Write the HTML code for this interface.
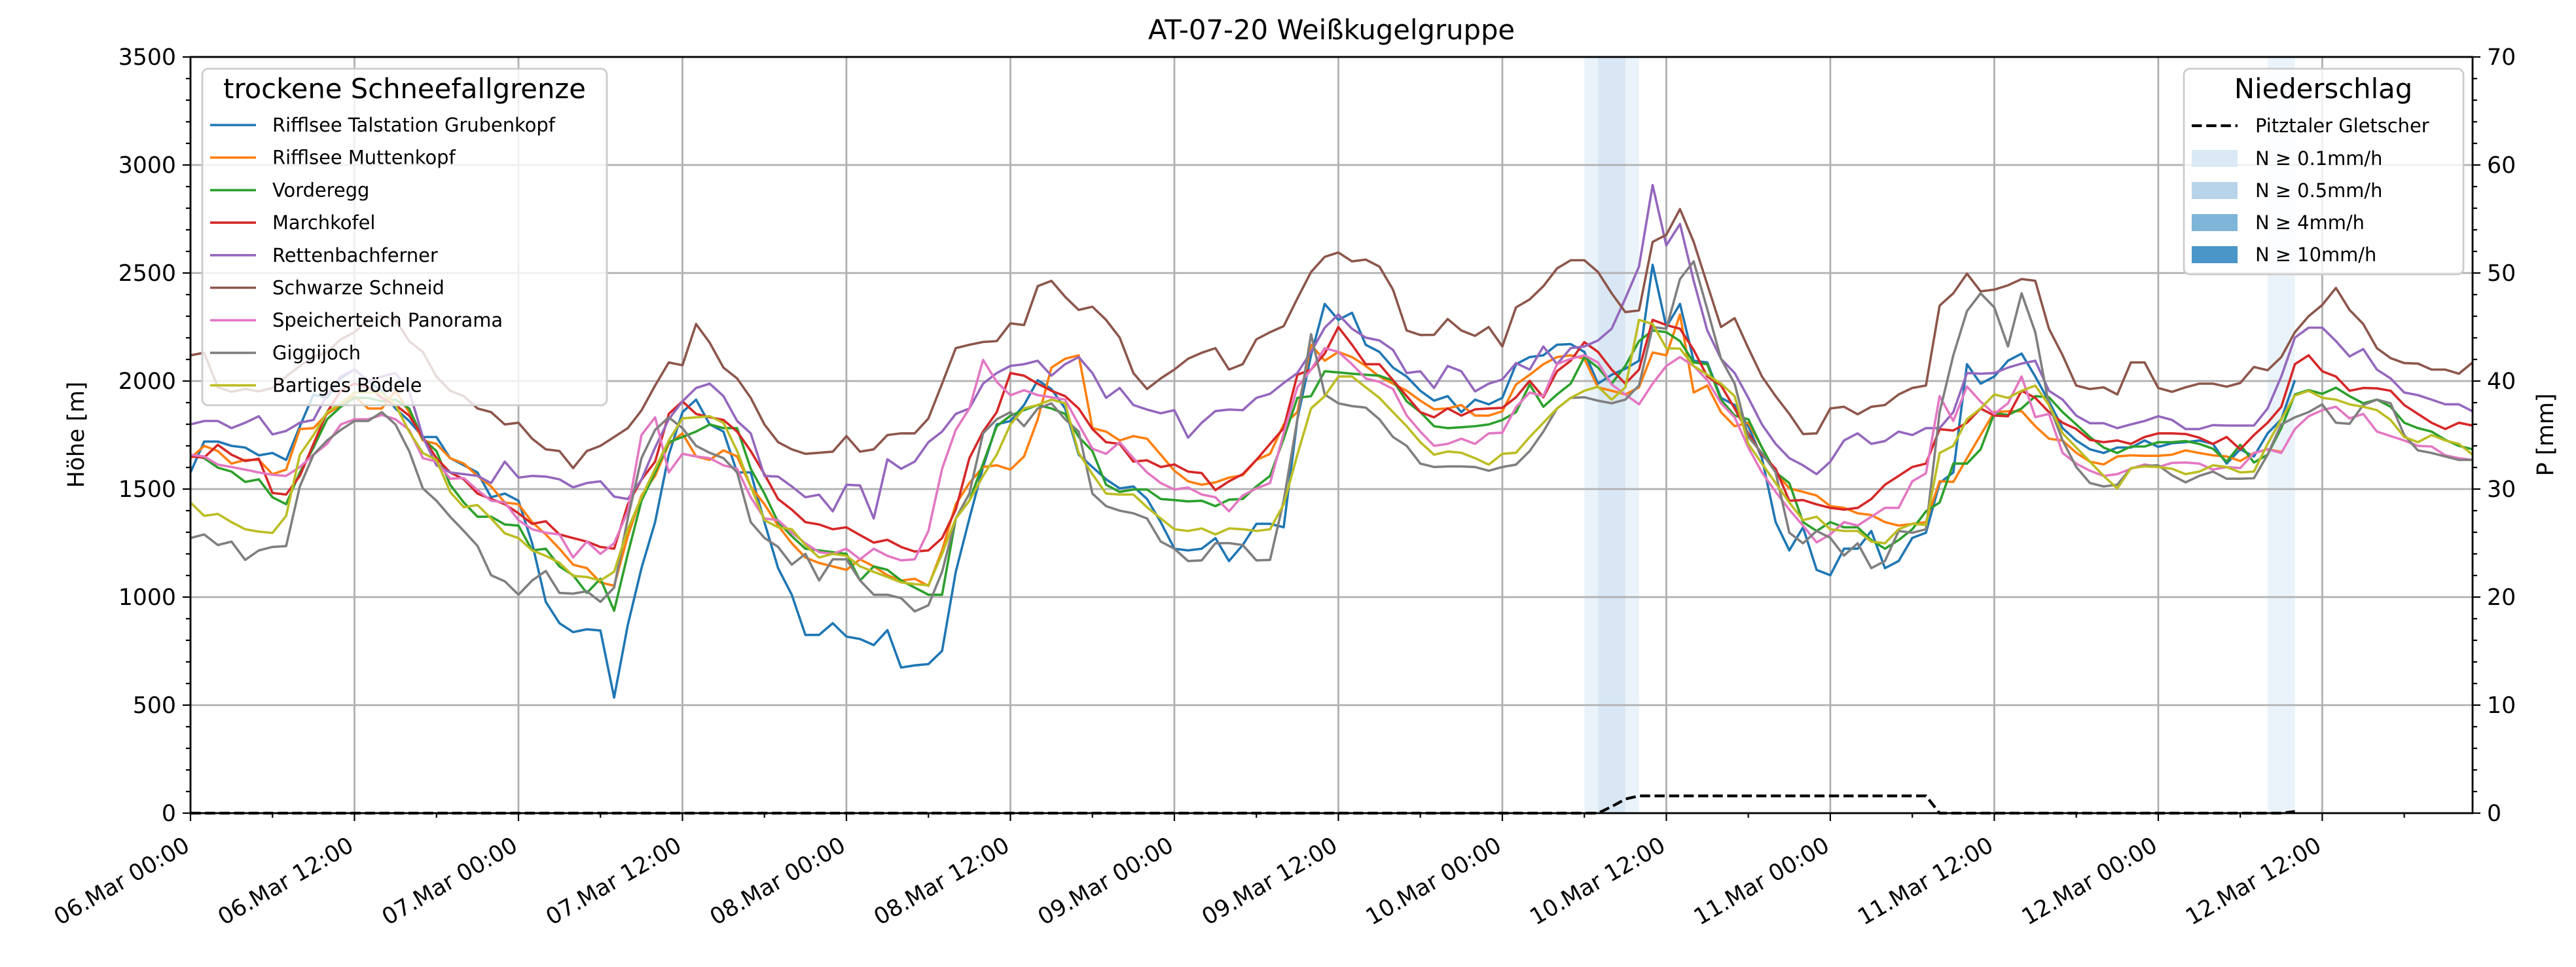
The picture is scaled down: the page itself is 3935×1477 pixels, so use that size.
<!DOCTYPE html>
<html><head><meta charset="utf-8">
<style>
html,body{margin:0;padding:0;background:#fff;}
svg{display:block;font-family:"DejaVu Sans","Liberation Sans",sans-serif;}
</style></head>
<body>
<svg id="chart" width="3935" height="1477" viewBox="0 0 3935 1477" xmlns="http://www.w3.org/2000/svg">
<rect x="0" y="0" width="3935" height="1477" fill="#fff"/>
<g id="bands"></g>
<g id="grid"></g>
<g id="series"></g>
<g id="axes"></g>
<text x="2034" y="60" font-size="41.7" text-anchor="middle">AT-07-20 Weißkugelgruppe</text>
<text x="0" y="0" font-size="34.7" text-anchor="middle" transform="translate(128,664) rotate(-90)">Höhe [m]</text>
<text x="0" y="0" font-size="34.7" text-anchor="middle" transform="translate(3900,664) rotate(-90)">P [mm]</text>
<g id="legends"></g>
</svg>
<script>
// ---- data ----
const hours12Labels = ["06.Mar 00:00","06.Mar 12:00","07.Mar 00:00","07.Mar 12:00","08.Mar 00:00","08.Mar 12:00","09.Mar 00:00","09.Mar 12:00","10.Mar 00:00","10.Mar 12:00","11.Mar 00:00","11.Mar 12:00","12.Mar 00:00","12.Mar 12:00"];
const yTicks = [0,500,1000,1500,2000,2500,3000,3500];
const y2Ticks = [0,10,20,30,40,50,60,70];
const seriesNames = ["Rifflsee Talstation Grubenkopf","Rifflsee Muttenkopf","Vorderegg","Marchkofel","Rettenbachferner","Schwarze Schneid","Speicherteich Panorama","Giggijoch","Bartiges Bödele"];
const seriesColors = ["#1f77b4","#ff7f0e","#2ca02c","#d62728","#9467bd","#8c564b","#e377c2","#7f7f7f","#bcbd22"];
const sBlue = [1577,1720,1720,1700,1692,1656,1667,1635,1790,1938,1922,2013,2053,2000,1955,1873,1815,1741,1741,1643,1610,1577,1462,1479,1446,1249,978,879,838,
851,845,535,871,1134,1347,1659,1856,1914,1799,1766,1577,1577,1347,1134,1011,825,825,879,817,806,778,847,674,684,690,751,1117,
1364,1602,1799,1815,1889,2004,1963,1873,1659,1602,1545,1503,1512,1454,1347,1224,1216,1224,1273,1167,1241,1339,1339,1323,1823,2119,2357,2283,
2316,2168,2135,2062,2021,1955,1909,1930,1856,1914,1892,1922,2078,2111,2119,2168,2171,2135,1988,2029,2057,2094,2538,2250,2357,2094,2086,1922,1889,
1791,1643,1347,1216,1323,1126,1101,1224,1224,1306,1134,1167,1274,1298,1528,1577,2078,1988,2021,2094,2127,2021,1906,1782,1725,1684,1667,1692,
1692,1725,1695,1712,1717,1725,1709,1618,1684,1651,1758,1823,2004];
const sOrange = [1643,1700,1676,1618,1635,1635,1569,1590,1778,1782,1848,1889,1930,1873,1873,1955,1856,1725,1709,1643,1618,1561,1512,1438,1430,1347,1290,1224,1150,
1134,1068,1052,1282,1470,1561,1709,1758,1651,1635,1679,1651,1512,1430,1331,1249,1183,1158,1142,1126,1175,1142,1101,1076,1085,1052,1216,1430,
1528,1602,1610,1590,1651,1823,2062,2103,2119,1782,1766,1725,1745,1733,1659,1585,1536,1520,1531,1553,1564,1635,1663,1799,1856,2168,2094,2135,
2111,2070,2021,1988,1955,1909,1869,1873,1889,1840,1840,1860,1984,2029,2078,2111,2119,2103,1971,1955,1938,1971,2132,2119,2308,1947,1979,1856,1791,
1807,1692,1577,1503,1487,1470,1421,1413,1388,1380,1347,1331,1339,1347,1536,1533,1643,1750,1856,1860,1861,1791,1733,1725,1668,1627,1614,1651,
1656,1654,1654,1659,1679,1667,1656,1651,1630,1667,1684,1672];
const sGreen = [1659,1643,1599,1581,1533,1545,1462,1430,1577,1692,1823,1881,1922,1922,1906,1914,1873,1733,1676,1520,1438,1372,1372,1336,1331,1216,1224,1142,1101,
1019,1085,937,1200,1446,1577,1717,1741,1766,1799,1782,1782,1594,1479,1347,1282,1224,1216,1208,1200,1077,1142,1126,1077,1044,1011,1011,1364,
1446,1618,1791,1840,1865,1889,1873,1848,1741,1676,1520,1487,1498,1498,1454,1449,1443,1446,1421,1451,1454,1512,1561,1733,1922,1930,2045,2040,
2034,2029,2025,2002,1906,1856,1791,1782,1786,1791,1799,1820,1856,1984,1881,1938,1988,2111,2062,1988,2070,2185,2234,2226,2185,2086,2078,1914,1840,
1823,1692,1577,1528,1347,1306,1347,1323,1323,1264,1224,1264,1314,1397,1438,1618,1618,1684,1851,1843,1873,1930,1925,1856,1799,1741,1692,1667,
1697,1697,1717,1717,1722,1709,1687,1627,1705,1623,1659,1782,1938,1958,1941,1969,1930,1897,1914,1881,1807,1782,1766,1728,1700,1684];
const sRed = [1651,1646,1705,1659,1630,1640,1482,1475,1561,1709,1856,1955,1988,1971,1922,1889,1840,1741,1643,1577,1545,1479,1454,1430,1388,1339,1351,1290,1273,
1257,1232,1224,1429,1544,1627,1848,1906,1848,1832,1820,1766,1676,1569,1454,1405,1347,1336,1314,1323,1287,1252,1265,1232,1211,1216,1273,1405,
1643,1766,1856,2037,2025,1988,1955,1930,1873,1778,1717,1709,1627,1633,1602,1614,1581,1574,1495,1536,1569,1635,1709,1782,2029,2053,2127,2250,
2168,2078,2078,2004,1930,1856,1832,1873,1840,1869,1873,1876,1925,2001,1925,2045,2094,2180,2135,2053,1988,2053,2283,2259,2242,2144,2021,1980,1873,
1758,1659,1594,1446,1449,1429,1413,1405,1413,1454,1520,1561,1602,1618,1777,1771,1807,1873,1840,1837,1955,1922,1856,1807,1778,1728,1717,1725,
1709,1741,1758,1758,1755,1738,1709,1741,1684,1750,1807,1881,2078,2119,2045,2021,1955,1968,1966,1955,1889,1848,1807,1778,1807,1794];
const sPurple = [1799,1815,1815,1782,1807,1837,1753,1769,1807,1820,1938,2021,2053,2000,2021,2037,1955,1741,1610,1577,1569,1561,1528,1627,1553,1561,1558,1545,1508,
1528,1536,1465,1454,1544,1692,1823,1906,1968,1988,1930,1815,1758,1561,1558,1512,1462,1474,1397,1520,1517,1364,1638,1594,1627,1717,1766,1848,
1873,1988,2037,2070,2078,2094,2025,2078,2111,2037,1922,1968,1889,1868,1851,1865,1738,1807,1861,1868,1865,1922,1941,1991,2037,2135,2247,2308,
2242,2201,2188,2144,2037,2045,1968,2070,2045,1952,1988,2007,2083,2053,2160,2078,2152,2160,2188,2242,2382,2530,2907,2628,2727,2464,2234,2103,2037,
1922,1799,1709,1643,1610,1569,1627,1725,1758,1709,1722,1766,1750,1782,1782,1856,2037,2034,2037,2062,2081,2094,1955,1914,1840,1805,1805,1782,
1799,1815,1837,1820,1778,1778,1796,1794,1794,1794,1873,2021,2201,2247,2247,2185,2114,2148,2053,2012,1947,1935,1914,1892,1892,1860];
const sBrown = [2119,2131,1971,1950,1963,1952,1968,2021,2070,2111,2135,2193,2226,2283,2300,2283,2185,2135,2021,1955,1930,1873,1856,1799,1807,1733,1684,1676,1597,
1676,1700,1741,1782,1864,1979,2086,2073,2264,2177,2062,2012,1922,1799,1717,1684,1663,1668,1673,1745,1673,1684,1750,1758,1758,1827,1988,2152,
2168,2181,2185,2267,2259,2439,2464,2390,2329,2344,2283,2201,2037,1963,2012,2053,2103,2131,2152,2053,2078,2193,2226,2254,2382,2505,2575,2595,
2554,2562,2530,2423,2234,2213,2214,2287,2234,2209,2250,2160,2341,2378,2439,2521,2559,2559,2505,2406,2319,2327,2644,2677,2796,2644,2447,2250,2291,
2152,2021,1930,1848,1755,1758,1873,1881,1846,1881,1889,1938,1968,1979,2349,2406,2497,2415,2423,2443,2472,2464,2242,2119,1979,1963,1971,1938,
2086,2086,1968,1950,1971,1988,1988,1974,1991,2065,2050,2111,2226,2300,2352,2431,2329,2264,2152,2106,2083,2081,2053,2053,2034,2086];
const sPink = [1659,1651,1613,1602,1590,1577,1566,1561,1602,1659,1709,1799,1823,1823,1843,1823,1774,1643,1627,1548,1551,1495,1446,1438,1356,1314,1298,1290,1183,
1257,1200,1249,1397,1750,1832,1577,1663,1651,1643,1610,1594,1462,1364,1356,1298,1249,1208,1200,1224,1175,1224,1191,1170,1175,1306,1594,1774,
1873,2098,1996,1934,1958,1935,1925,1914,1799,1687,1663,1717,1643,1577,1528,1498,1507,1475,1462,1397,1470,1503,1528,1758,1971,2053,2152,2135,
2078,2012,1996,1963,1840,1766,1700,1709,1733,1709,1758,1761,1879,1947,1930,2078,2103,2119,2086,1984,1938,1892,1988,2070,2111,2070,2004,1897,1832,
1692,1577,1487,1405,1331,1253,1290,1347,1331,1372,1413,1413,1536,1573,1930,1815,1975,1905,1848,1897,2021,1833,1848,1667,1618,1585,1561,1569,
1594,1614,1602,1621,1623,1618,1590,1602,1597,1667,1684,1667,1778,1837,1865,1881,1827,1848,1766,1745,1725,1700,1697,1656,1643,1635];
const sGray = [1273,1290,1241,1257,1172,1216,1232,1236,1512,1659,1725,1774,1815,1815,1856,1799,1676,1503,1446,1372,1306,1237,1101,1073,1011,1077,1121,1019,1016,
1027,978,1044,1364,1643,1774,1832,1782,1700,1668,1643,1577,1347,1274,1232,1150,1200,1077,1175,1175,1077,1011,1011,995,934,962,1117,1364,
1479,1758,1823,1856,1791,1873,1897,1823,1766,1479,1421,1400,1388,1364,1257,1224,1167,1170,1249,1250,1241,1170,1172,1446,1823,2217,1938,1897,
1884,1877,1823,1741,1700,1618,1602,1605,1605,1602,1585,1602,1613,1676,1766,1873,1922,1925,1909,1897,1914,1980,2250,2242,2472,2554,2332,2103,1988,
1741,1667,1577,1298,1249,1306,1274,1192,1249,1134,1167,1306,1298,1314,1856,2119,2324,2406,2341,2160,2406,2226,1889,1725,1602,1528,1512,1520,
1597,1607,1610,1564,1531,1561,1581,1548,1548,1550,1659,1799,1832,1856,1892,1807,1802,1889,1914,1897,1750,1679,1667,1651,1635,1635];
const sYellow = [1438,1376,1385,1347,1314,1303,1297,1376,1659,1750,1856,1897,1947,1947,1947,1889,1766,1667,1635,1487,1416,1426,1364,1295,1273,1216,1191,1159,1098,
1093,1077,1117,1314,1462,1594,1725,1827,1832,1837,1807,1676,1512,1356,1323,1314,1241,1183,1200,1191,1142,1117,1093,1068,1060,1055,1200,1364,
1446,1561,1659,1799,1873,1889,1914,1897,1667,1569,1479,1475,1475,1416,1364,1314,1306,1318,1290,1318,1314,1306,1314,1429,1659,1873,1930,2021,
2021,1971,1922,1856,1791,1717,1659,1674,1668,1643,1613,1663,1668,1741,1807,1873,1922,1955,1974,1914,1971,2283,2264,2152,2150,2070,2029,1988,1930,
1709,1618,1528,1438,1356,1372,1314,1306,1306,1257,1249,1314,1339,1334,1667,1700,1823,1873,1938,1922,1955,1979,1889,1758,1692,1627,1561,1503,
1597,1605,1602,1594,1569,1581,1610,1602,1577,1581,1709,1823,1933,1955,1922,1914,1892,1881,1865,1820,1741,1717,1750,1725,1709,1659];
const precipHours = [0,103,104,105,106,127,128,153,154];
const precipValues = [0,0,0.6,1.3,1.6,1.6,0,0,0.15];
const bandStart = [102,103,105,152];
const bandEnd = [103,105,106,154];
const bandLevel = [0.1,0.5,0.1,0.1];
const legendLevels = ["0.1","0.5","4","10"];

// ---- scales ----
const NS = "http://www.w3.org/2000/svg";
const X0 = 291, X1 = 3777, Y0 = 1242, Y1 = 87, HMAX = 167;
const xS = h => X0 + h * (X1 - X0) / HMAX;
const yS = v => Y0 - v * (Y0 - Y1) / 3500;
const y2S = p => Y0 - p * (Y0 - Y1) / 70;
function mk(tag, attrs, parent) {
  const e = document.createElementNS(NS, tag);
  for (const k in attrs) e.setAttribute(k, attrs[k]);
  parent.appendChild(e);
  return e;
}
const gB = document.getElementById('bands'), gG = document.getElementById('grid'),
      gS = document.getElementById('series'), gA = document.getElementById('axes'),
      gL = document.getElementById('legends');
const levelColor = {"0.1":"#dbe9f6","0.5":"#b8d4ea","4":"#7fb5d8","10":"#4a96c9"};

// precipitation bands
bandStart.forEach((s, i) => {
  const r = mk('rect', {x: xS(s), y: Y1, width: xS(bandEnd[i]) - xS(s), height: Y0 - Y1, fill: levelColor[String(bandLevel[i])], opacity: 0.55}, gB);
  
  
});

// grid
for (let i = 0; i < hours12Labels.length; i++) {
  const x = xS(i * 12);
  const l = mk('line', {x1: x, x2: x, y1: Y1, y2: Y0, stroke: '#b0b0b0', 'stroke-width': 2.8}, gG);
  
  
}
yTicks.forEach(v => {
  const l = mk('line', {x1: X0, x2: X1, y1: yS(v), y2: yS(v), stroke: '#b0b0b0', 'stroke-width': 2.8}, gG);
  
  
});

// series
const allSeries = [sBlue, sOrange, sGreen, sRed, sPurple, sBrown, sPink, sGray, sYellow];
allSeries.forEach((arr, si) => {
  const pts = arr.map((v, h) => xS(h).toFixed(1) + ',' + yS(v).toFixed(1)).join(' ');
  const p = mk('polyline', {points: pts, fill: 'none', stroke: seriesColors[si], 'stroke-width': 3.6, 'stroke-linejoin': 'round'}, gS);
  
  
});
// precipitation dashed line
{
  const pts = precipHours.map((h, i) => xS(h).toFixed(1) + ',' + y2S(precipValues[i]).toFixed(1)).join(' ');
  const p = mk('polyline', {points: pts, fill: 'none', stroke: '#000', 'stroke-width': 4.2, 'stroke-dasharray': '15.5,6.7'}, gS);
  
  
}

// axes frame
{
  const f = mk('rect', {x: X0, y: Y1, width: X1 - X0, height: Y0 - Y1, fill: 'none', stroke: '#000', 'stroke-width': 2.8}, gA);
  
  
}
// x ticks
for (let h = 0; h <= HMAX; h += 6) {
  const major = h % 12 === 0;
  const x = xS(h);
  mk('line', {x1: x, x2: x, y1: Y0, y2: Y0 + (major ? 12 : 7), stroke: '#000', 'stroke-width': 2.2}, gA);
}
hours12Labels.forEach((lab, i) => {
  const x = xS(i * 12);
  const t = mk('text', {x: 0, y: 0, 'font-size': 34.7, 'text-anchor': 'end', transform: `translate(${x + 1},${1298}) rotate(-30)`}, gA);
  t.textContent = lab;
  
  
});
// left y ticks
for (let v = 0; v <= 3500; v += 100) {
  const major = v % 500 === 0;
  mk('line', {x1: X0, x2: X0 - (major ? 12 : 7), y1: yS(v), y2: yS(v), stroke: '#000', 'stroke-width': 2.2}, gA);
}
yTicks.forEach(v => {
  const t = mk('text', {x: X0 - 22, y: yS(v) + 12, 'font-size': 34.7, 'text-anchor': 'end'}, gA);
  t.textContent = String(v);
  
  
});
// right y ticks
for (let p = 0; p <= 70; p += 2) {
  const major = p % 10 === 0;
  mk('line', {x1: X1, x2: X1 + (major ? 12 : 7), y1: y2S(p), y2: y2S(p), stroke: '#000', 'stroke-width': 2.2}, gA);
}
y2Ticks.forEach(p => {
  const t = mk('text', {x: X1 + 22, y: y2S(p) + 12, 'font-size': 34.7, 'text-anchor': 'start'}, gA);
  t.textContent = String(p);
  
  
});

// legend 1
{
  const box = mk('rect', {x: 309, y: 105, width: 618, height: 514, rx: 9, fill: '#fff', 'fill-opacity': 0.8, stroke: '#cccccc', 'stroke-width': 2.8}, gL);
  
  
  const tt = mk('text', {x: 618, y: 150, 'font-size': 41.7, 'text-anchor': 'middle'}, gL);
  tt.textContent = 'trockene Schneefallgrenze';
  
  
  seriesNames.forEach((n, i) => {
    const cy = 191 + i * 49.7;
    const l = mk('line', {x1: 321, x2: 391, y1: cy, y2: cy, stroke: seriesColors[i], 'stroke-width': 3.6}, gL);
    
    
    const t = mk('text', {x: 416, y: cy + 10, 'font-size': 28.9}, gL);
    t.textContent = n;
    
    
  });
}
// legend 2
{
  const box = mk('rect', {x: 3336, y: 105, width: 427, height: 314, rx: 9, fill: '#fff', 'fill-opacity': 0.8, stroke: '#cccccc', 'stroke-width': 2.8}, gL);
  
  
  const tt = mk('text', {x: 3549, y: 150, 'font-size': 41.7, 'text-anchor': 'middle'}, gL);
  tt.textContent = 'Niederschlag';
  
  
  const dl = mk('line', {x1: 3348, x2: 3418, y1: 192, y2: 192, stroke: '#000', 'stroke-width': 4.2, 'stroke-dasharray': '15.5,6.7'}, gL);
  
  
  const dt = mk('text', {x: 3445, y: 202, 'font-size': 28.9}, gL);
  dt.textContent = 'Pitztaler Gletscher';
  
  
  legendLevels.forEach((lv, i) => {
    const cy = 242 + i * 49;
    const r = mk('rect', {x: 3348, y: cy - 13, width: 70, height: 26, fill: levelColor[lv]}, gL);
    
    
    const t = mk('text', {x: 3445, y: cy + 10, 'font-size': 28.9}, gL);
    t.textContent = 'N ≥ ' + lv + 'mm/h';
    
    
  });
}
</script>
</body></html>
